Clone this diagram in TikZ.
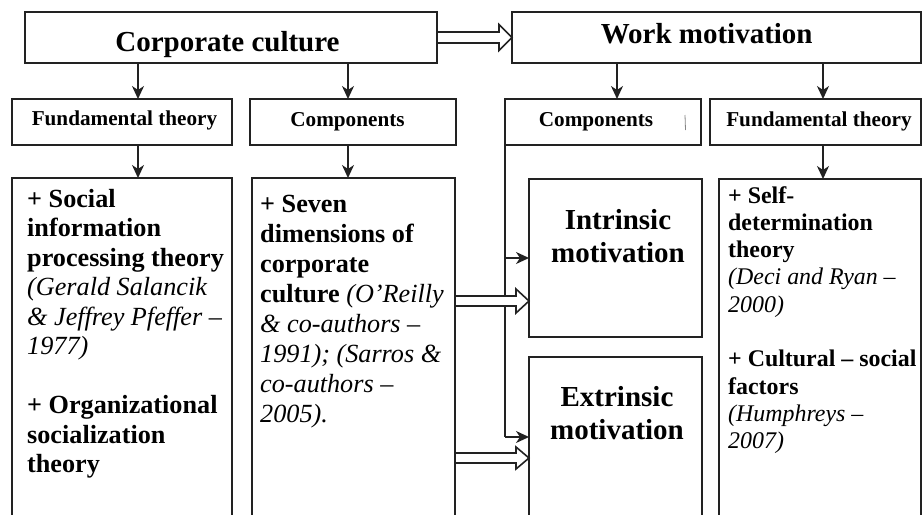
\documentclass[tikz,border=0pt]{standalone}
\usepackage{fontspec}
\setmainfont{Liberation Serif}
\usetikzlibrary{arrows.meta,calc,backgrounds}

\definecolor{ink}{HTML}{222222}

\tikzset{
  bx/.style={draw=ink, line width=1.7pt, rectangle, inner sep=0pt, outer sep=0pt},
  arr/.style={draw=ink, line width=1.7pt, -{Stealth[length=13pt,width=12pt,inset=4pt]}},
  vline/.style={draw=ink, line width=1.7pt},
  dbl/.style={draw=ink, line width=1.6pt, fill=white, line join=miter},
  hd/.style={font=\fontsize{29}{34}\selectfont\bfseries, inner sep=0pt, anchor=base},
  sub/.style={font=\fontsize{21.2}{25}\selectfont\bfseries, inner sep=0pt, anchor=base},
  mot/.style={font=\fontsize{29}{33.5}\selectfont\bfseries, inner sep=0pt, anchor=base,
              align=center, text width=170pt},
  bodyL/.style={font=\fontsize{26.2}{29.5}\selectfont, align=flush left, text width=215pt,
                inner sep=0pt, anchor=base west},
  bodyM/.style={font=\fontsize{26.2}{30}\selectfont, align=flush left, text width=195pt,
                inner sep=0pt, anchor=base west},
  bodyR/.style={font=\fontsize{23.9}{27.3}\selectfont, align=flush left, text width=195pt,
                inner sep=0pt, anchor=base west},
}

% box from (x1,y1) to (x2,y2), y measured downwards
\newcommand{\mkbox}[5]{%
  \node[bx, minimum width={(#4)-(#2)}, minimum height={(#5)-(#3)}] (#1) at ({((#2)+(#4))/2},{((#3)+(#5))/2}) {};}

% hollow double-line arrow from point #1 to point #2 (at the height of #2)
\newcommand{\dblarrow}[4]{%
  \draw[dbl] let \p1=(#1), \p2=(#2) in
    (\x1,\y2+#3) -- (\x2-13pt,\y2+#3) -- (\x2-13pt,\y2+#4) -- (\x2,\y2)
    -- (\x2-13pt,\y2-#4) -- (\x2-13pt,\y2-#3) -- (\x1,\y2-#3);}

\begin{document}
\begin{tikzpicture}[x=1pt,y=-1pt]
  \useasboundingbox (0,0) rectangle (923,514);
  \clip (0,0) rectangle (923,514);

  % top row
  \mkbox{cc}{25}{12}{437}{63}
  \mkbox{wm}{512}{12}{921}{63}
  \node[hd] (tcc) at (227.5,51.7) {Corporate culture};
  \node[hd] (twm) at (706.7,43.3) {Work motivation};

  % second row
  \mkbox{ftl}{12}{99}{232}{145}
  \mkbox{cpl}{250}{99}{456}{145}
  \mkbox{cpr}{505}{99}{701}{145}
  \mkbox{ftr}{710}{99}{921}{145}
  \node[sub] (tftl) at (124.5,125) {Fundamental theory};
  \node[sub] (tcpl) at (347.5,126) {Components};
  \node[sub] (tcpr) at (596,126) {Components};
  \node[sub] (tftr) at (819,126) {Fundamental theory};
  \draw[ink!55, line width=0.8pt] (685,115) -- (685.5,130);

  % third row
  \mkbox{lb}{12}{178}{232}{530}
  \mkbox{mb}{252}{178}{455}{530}
  \mkbox{ib}{529}{179}{702}{337}
  \mkbox{eb}{529}{357}{702}{530}
  \mkbox{rb}{719}{179}{921}{530}

  \node[mot] (tib) at (618,229) {Intrinsic\\motivation};
  \node[mot] (teb) at (617,406) {Extrinsic\\motivation};

  \node[bodyL] (tlb) at (27,207) {%
    \textbf{+ Social}\\
    \textbf{information}\\
    \textbf{processing theory}\\
    \textit{(Gerald Salancik}\\
    \textit{\& Jeffrey Pfeffer –}\\
    \textit{1977)}\\[29.5pt]
    \textbf{+ Organizational}\\
    \textbf{socialization}\\
    \textbf{theory}};

  \node[bodyM] (tmb) at (260,212) {%
    \textbf{+ Seven}\\
    \textbf{dimensions of}\\
    \textbf{corporate}\\
    \textbf{culture} \textit{(O’Reilly}\\
    \textit{\& co-authors –}\\
    \textit{1991); (Sarros \&}\\
    \textit{co-authors –}\\
    \textit{2005).}};

  \node[bodyR] (trb) at (728,203) {%
    \textbf{+ Self-}\\
    \textbf{determination}\\
    \textbf{theory}\\
    \textit{(Deci and Ryan –}\\
    \textit{2000)}\\[27.3pt]
    \textbf{+ Cultural – social}\\
    \textbf{factors}\\
    \textit{(Humphreys –}\\
    \textit{2007)}};

  % connectors
  \coordinate (xa) at (138,0);
  \coordinate (xb) at (348,0);
  \coordinate (xc) at (617,0);
  \coordinate (xd) at (823,0);
  \draw[arr] (cc.south -| xa) -- (ftl.north -| xa);
  \draw[arr] (cc.south -| xb) -- (cpl.north -| xb);
  \draw[arr] (wm.south -| xc) -- (cpr.north -| xc);
  \draw[arr] (wm.south -| xd) -- (ftr.north -| xd);
  \draw[arr] (ftl.south -| xa) -- (lb.north -| xa);
  \draw[arr] (cpl.south -| xb) -- (mb.north -| xb);
  \draw[arr] (ftr.south -| xd) -- (rb.north -| xd);

  \coordinate (ja) at ($(ib.north west)+(0,79)$);
  \coordinate (jb) at ($(eb.north west)+(0,80)$);
  \draw[arr] (cpr.south west |- ja) -- (ja);
  \draw[arr] (cpr.south west |- jb) -- (jb);

  \begin{pgfonlayer}{background}
    \draw[vline] (cpr.south west) -- (cpr.south west |- jb);
    \dblarrow{cc.east}{wm.west}{5.5pt}{13pt}
    \coordinate (da) at ($(ib.north west)+(0,122)$);
    \coordinate (db) at ($(eb.north west)+(0,101)$);
    \dblarrow{mb.east}{da}{5pt}{12pt}
    \dblarrow{mb.east}{db}{5pt}{11pt}
  \end{pgfonlayer}
\end{tikzpicture}
\end{document}
